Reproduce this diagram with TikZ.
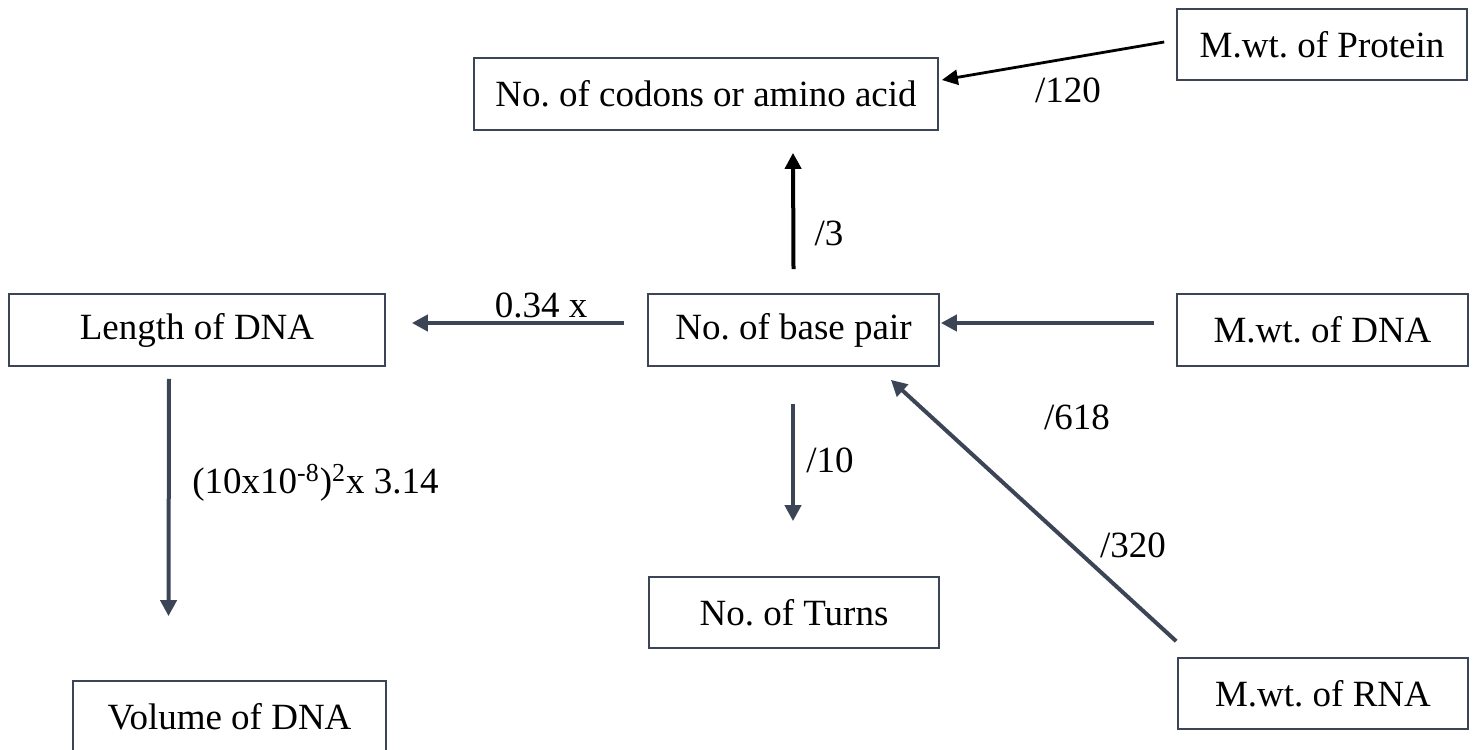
\documentclass[tikz,border=0pt]{standalone}
\usepackage{fontspec}
\setmainfont{Liberation Serif}
\frenchspacing
\usetikzlibrary{arrows.meta}
\definecolor{slate}{RGB}{59,69,86}
\begin{document}
\begin{tikzpicture}[x=0.5pt,y=-0.5pt,
  box/.style={draw=slate,line width=0.85pt,rectangle,inner sep=0pt,font=\fontsize{18.5}{22}\selectfont\frenchspacing},
  arr/.style={draw=slate,line width=2pt,-{Triangle[length=8pt,width=8pt]}},
  arrb/.style={draw=black,line width=2pt,-{Triangle[length=8pt,width=8pt]}},
  arrt/.style={draw=black,line width=1.4pt,-{Triangle[length=8pt,width=7.5pt]}},
  lab/.style={font=\fontsize{18.5}{22}\selectfont,inner sep=0pt}]
\useasboundingbox (0,0) rectangle (1476,749);
\node[box,minimum width=232pt,minimum height=36pt] (cod) at (706,94) {No. of codons or amino acid};
\node[box,minimum width=145pt,minimum height=35.5pt] (pro) at (1322,44.5) {M.wt. of Protein};
\node[box,minimum width=188pt,minimum height=36pt] (len) at (197,330) {Length of DNA};
\node[box,minimum width=145.5pt,minimum height=36pt] (bp) at (793.5,330) {No. of base pair};
\node[box,minimum width=145.5pt,minimum height=36pt] (dna) at (1322.5,330) {M.wt. of DNA};
\node[box,minimum width=145pt,minimum height=35.5pt] (tur) at (794,612.5) {No. of Turns};
\node[box,minimum width=145pt,minimum height=35.5pt] (rna) at (1323,693.5) {M.wt. of RNA};
\node[box,minimum width=156.5pt,minimum height=35.5pt] (vol) at (229.5,716.5) {Volume of DNA};
\draw[arrt] ([shift={(-12,-2.5)}]pro.west) -- ([shift={(3,-14)}]cod.east);
\draw[arrb] ([shift={(0,-24)}]bp.north) -- ([shift={(87,22)}]cod.south);
\draw[arr] ([shift={(-23,-7)}]bp.west) -- ([shift={(26,-7)}]len.east);
\draw[arr] ([shift={(-22,-7)}]dna.west) -- ([shift={(1,-7)}]bp.east);
\draw[arr] ([shift={(-1,-16)}]rna.north west) -- ([shift={(-49,13)}]bp.south east);
\draw[arr] ([shift={(-0.5,37)}]bp.south) -- ([shift={(-1,-55)}]tur.north);
\draw[arr] ([shift={(-28,12)}]len.south) -- ([shift={(-61,-64)}]vol.north);
\node[lab] (t120) at (1068,90) {/120};
\node[lab] (t3) at (829,233) {/3};
\node[lab] (t034) at (541,305) {0.34 x};
\node[lab] (t618) at (1077,417) {/618};
\node[lab] (t10) at (830,460) {/10};
\node[lab] (t320) at (1133,545) {/320};
\node[lab,anchor=west] (tv) at (192,483) {(10x10\textsuperscript{-8})\textsuperscript{2}x 3.14};
\end{tikzpicture}
\end{document}
